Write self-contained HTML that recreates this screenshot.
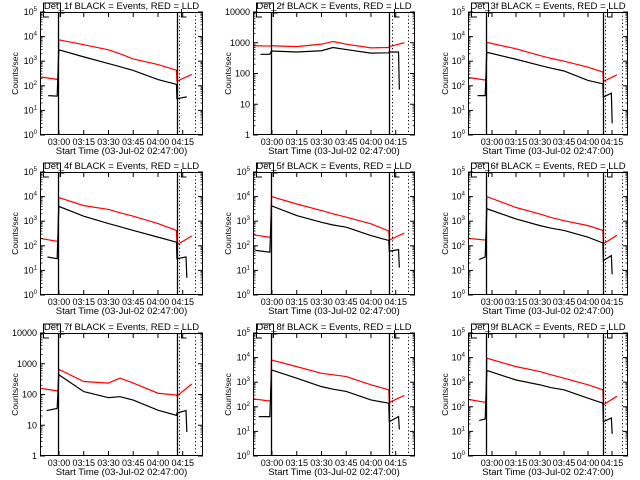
<!DOCTYPE html>
<html><head><meta charset="utf-8"><style>
html,body{margin:0;padding:0;background:#fff;}
svg{display:block;font-family:"Liberation Sans",sans-serif;}
</style></head><body>
<svg id="chart" width="640" height="480" viewBox="0 0 640 480" xmlns="http://www.w3.org/2000/svg">
<rect width="640" height="480" fill="#fff"/>
</svg>
<script>
const detectors=['1f','2f','3f','4f','5f','6f','7f','8f','9f'];
const decades=[5,4,5,5,5,5,4,5,5];
const mainTimes=[195,210,217,225,240];
const xTickTimes=[180,195,210,225,240,255];
const xTickLabels=['03:00','03:15','03:30','03:45','04:00','04:15'];
const redMain=[[7400,4700,2900,2000,1240,730,430],[800,750,900,1100,900,680,700],[5800,3200,1700,1300,1000,570,360],[9100,4300,3000,2200,1600,800,420],[10000,5000,2700,2000,1450,780,400],[10000,3600,1950,1400,1050,660,420],[660,265,235,340,235,110,96],[8000,4300,2300,2000,1700,780,490],[9500,4300,2700,2000,1450,780,490]];
const blackMain=[[2900,1500,800,600,420,180,115],[540,500,550,700,600,460,470],[2300,1200,670,520,400,165,120],[4000,1600,800,600,420,225,140],[4200,1700,900,700,570,260,165],[3200,1230,660,520,420,225,130],[440,124,79,85,66,31,21],[3150,1450,660,520,420,190,140],[3000,1230,780,600,490,225,140]];
const redPre=[[230,180],[800,780],[220,170],[200,150],[280,220],[200,170],[160,130],[210,170],[200,150]];
const blackPreStart=[173.5,173,171,173,170,172,172.5,172,172];
const blackPre=[[40,38],[420,420],[40,40],[35,30],[65,55],[28,35],[30,35],[40,40],[28,32]];
const redPost=[[155,290],[750,1000],[150,280],[110,250],[170,330],[120,270],[90,220],[150,290],[120,270]];
const blackPost=[[30,35,35],[500,500,30],[35,50,3],[30,35,5],[60,70,13],[25,40,7],[25,30,6],[25,40,12],[25,35,8]];

const cols=[{l:40,w:163,t0:168.5,s:1.65,s1:179.4,s2:251.5,d1:253,d2:262.5},{l:253,w:162,t0:168.5,s:1.65,s1:179.2,s2:251.1,d1:252.7,d2:262.6},{l:468,w:160,t0:165,s:1.6,s1:176.25,s2:249.6,d1:250.6,d2:261.25}];
const rowTops=[12,172,333];const H=123;
const svg=document.getElementById('chart');const NS='http://www.w3.org/2000/svg';
function mk(tag,attrs,parent){const e=document.createElementNS(NS,tag);for(const k in attrs)e.setAttribute(k,attrs[k]);(parent||svg).appendChild(e);return e;}

for(let p=0;p<9;p++){
  const c=cols[p%3],top=rowTops[Math.floor(p/3)],nd=decades[p];
  const g=mk('g',{});
  
  
  const X=t=>c.l+(t-c.t0)*c.s;
  const Y=v=>top+H-Math.log10(Math.max(v,1))/nd*H;
  const bot=top+H,r=c.l+c.w;
  // clip
  const cid='clip'+p;const cp=mk('clipPath',{id:cid},g);mk('rect',{x:c.l,y:top,width:c.w,height:H},cp);
  const dg=mk('g',{'clip-path':'url(#'+cid+')'},g);
  // y ticks
  for(let d=0;d<=nd;d++){
    const y=Y(Math.pow(10,d));
    mk('line',{x1:c.l,x2:c.l+5,y1:y,y2:y,stroke:'#000','stroke-width':1},g);
    mk('line',{x1:r,x2:r-5,y1:y,y2:y,stroke:'#000','stroke-width':1},g);
    if(d<nd)for(let m=2;m<10;m++){const ym=Y(m*Math.pow(10,d));
      mk('line',{x1:c.l,x2:c.l+2.5,y1:ym,y2:ym,stroke:'#000','stroke-width':0.8},g);
      mk('line',{x1:r,x2:r-2.5,y1:ym,y2:ym,stroke:'#000','stroke-width':0.8},g);}
    const t=mk('text',{x:c.l-3,y:y+3,'font-size':9,'text-anchor':'end',fill:'#000'},g);
    
    
    if(nd===4){t.textContent=String(Math.pow(10,d));}
    else{t.textContent='10';const s=mk('tspan',{'font-size':6,dy:-4},t);s.textContent=String(d);}
  }
  // x ticks
  xTickTimes.forEach((tt,i)=>{const x=X(tt);
    mk('line',{x1:x,x2:x,y1:bot,y2:bot-5,stroke:'#000','stroke-width':1},g);
    mk('line',{x1:x,x2:x,y1:top,y2:top+5,stroke:'#000','stroke-width':1},g);
    const t=mk('text',{x:x,y:bot+10,'font-size':9,'text-anchor':'middle',fill:'#000'},g);
    
    
    t.textContent=xTickLabels[i];});
  for(let tt=c.t0;tt<c.t0+c.w/c.s;tt+=0.5){}
  // series
  const rm=redMain[p],bm=blackMain[p];
  const mt=[c.s1+0.5].concat(mainTimes).concat([c.s2-0.3]);
  let rp='M'+X(c.t0)+' '+Y(redPre[p][0])+' L'+X(c.s1)+' '+Y(redPre[p][1]);
  mt.forEach((t,i)=>{rp+=' L'+X(t)+' '+Y(rm[i]);});
  rp+=' L'+X(c.s2)+' '+Y(redPost[p][0])+' L'+X(c.d1+7.5)+' '+Y(redPost[p][1]);
  const red=mk('path',{d:rp,fill:'none',stroke:'#ff0000','stroke-width':1.2},dg);
  
  
  let bp='M'+X(blackPreStart[p])+' '+Y(blackPre[p][0])+' L'+X(c.s1-0.5)+' '+Y(blackPre[p][1]);
  mt.forEach((t,i)=>{bp+=' L'+X(t)+' '+Y(bm[i]);});
  bp+=' L'+X(c.s2)+' '+Y(blackPost[p][0])+' L'+X(c.d1+4)+' '+Y(blackPost[p][1])+' L'+X(c.d1+4.5)+' '+Y(blackPost[p][2]);
  const blk=mk('path',{d:bp,fill:'none',stroke:'#000','stroke-width':1.2},dg);
  
  
  // markers
  [c.s1,c.s2].forEach(t=>{const x=Math.round(X(t))+0.5;mk('line',{x1:x,x2:x,y1:top,y2:bot,stroke:'#000','stroke-width':1.3},g);});
  [c.d1,c.d2].forEach(t=>{const x=Math.round(X(t))+0.5;mk('line',{x1:x,x2:x,y1:top,y2:bot,stroke:'#000','stroke-width':1,'stroke-dasharray':'1.2,2.4'},g);});
  const xs1=Math.round(X(c.s1))+0.5,xd1=Math.round(X(c.d1))+0.5;
  mk('path',{d:'M'+(c.l+3.5)+' '+top+' V'+(top-9)+' H'+(xs1+2)+' V'+(top+5)+' M'+(xs1+2)+' '+(top+1)+' H'+(xs1+6),fill:'none',stroke:'#000','stroke-width':1},g);
  mk('path',{d:'M'+(c.l+3.5)+' '+top+' V'+(top+5)+' H'+(c.l+9),fill:'none',stroke:'#000','stroke-width':1},g);
  mk('path',{d:'M'+(xd1+2)+' '+(top-3)+' V'+(top+5)+' H'+(xd1+7),fill:'none',stroke:'#000','stroke-width':1},g);
  // box
  mk('rect',{x:c.l+0.5,y:top+0.5,width:c.w-1,height:H-1,fill:'none',stroke:'#000','stroke-width':1},g);
  // titles
  const tt=mk('text',{x:c.l+c.w/2,y:top-3,'font-size':9.5,'text-anchor':'middle',fill:'#000'},g);
  
  
  tt.textContent='Det_'+detectors[p]+' BLACK = Events, RED = LLD';
  const xt=mk('text',{x:c.l+c.w/2,y:bot+19,'font-size':9.5,'text-anchor':'middle',fill:'#000'},g);
  
  
  xt.textContent='Start Time (03-Jul-02 02:47:00)';
  const yc=top+H/2,yx=c.l-(p%3===2?20:22);
  const yt=mk('text',{x:yx,y:yc,'font-size':8.5,'text-anchor':'middle',fill:'#000',transform:'rotate(-90 '+yx+' '+yc+')'},g);
  
  
  yt.textContent='Counts/sec';
}
</script>
</body></html>
